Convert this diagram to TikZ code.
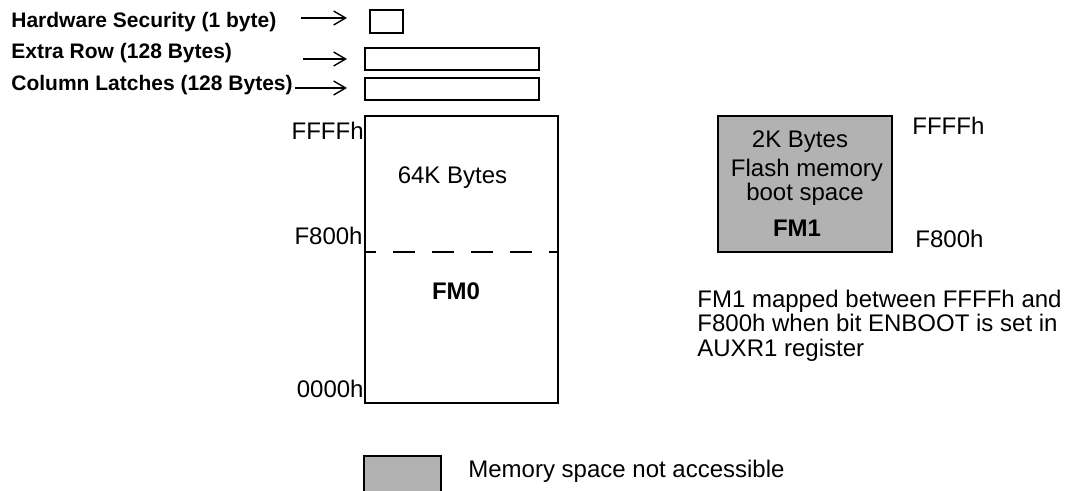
\documentclass[tikz,border=0pt]{standalone}
\usepackage{fontspec}
\setmainfont{Liberation Sans}
\usetikzlibrary{arrows.meta}

\begin{document}
\begin{tikzpicture}[x=0.5pt,y=-0.5pt,
    box/.style={draw=black,line width=1pt,inner sep=0pt},
    grey/.style={box,fill=black!30},
    txt/.style={inner sep=0pt,font=\fontsize{12}{14}\selectfont},
    tag/.style={inner sep=0pt,font=\fontsize{10.5}{12}\selectfont\bfseries},
    >={Straight Barb[length=6pt,width=7pt]}]
      \useasboundingbox (0,0) rectangle (1065,491);

      % top rows
      \node[tag,anchor=base west] (hst) at (11,28){Hardware Security (1 byte)};
      \node[tag,anchor=base west] (ert) at (11,59){Extra Row (128 Bytes)};
      \node[tag,anchor=base west] (clt) at (11,91){Column Latches (128 Bytes)};
      \node[box,minimum width=16.5pt,minimum height=11.5pt] (hs) at (386.5,21.5){};
      \node[box,minimum width=87pt,minimum height=11pt] (er) at (452,59){};
      \node[box,minimum width=87pt,minimum height=11pt] (cl) at (452,89){};
      \coordinate (ha) at (301,18);
      \coordinate (ea) at (303,59);
      \coordinate (ca) at (295,88);
      \draw[->,line width=0.7pt,shorten >=11pt] (ha) -- (ha -| hs.west);
      \draw[->,line width=0.7pt,shorten >=8.5pt] (ea) -- (ea -| er.west);
      \draw[->,line width=0.7pt,shorten >=8.5pt] (ca) -- (ca -| cl.west);

      % FM0
      \node[box,minimum width=96.5pt,minimum height=143.5pt] (fm0) at (461.5,259.5){};
      \coordinate (dl) at (365,252);
      \draw[line width=1pt,dash pattern=on 11pt off 8.5pt,dash phase=5.5pt] (dl) -- (dl -| fm0.east);
      \node[txt,anchor=base east] (a1) at (364,140){FFFFh};
      \node[txt,anchor=base east] (a2) at (363,245){F800h};
      \node[txt,anchor=base east] (a3) at (364,398){0000h};
      \node[txt,anchor=base] (k64) at (452.5,184){64K Bytes};
      \node[txt,anchor=base,font=\fontsize{12}{14}\selectfont\bfseries] (m0) at (456,300){FM0};

      % FM1
      \node[grey,minimum width=87pt,minimum height=68pt] (fm1) at (805,184){};
      \node[txt,anchor=base] (k2) at (800,148){2K Bytes};
      \node[txt,anchor=base] (fl) at (807,177){Flash memory};
      \node[txt,anchor=base] (bs) at (805,201){boot space};
      \node[txt,anchor=base,font=\fontsize{12}{14}\selectfont\bfseries] (m1) at (797,237){FM1};
      \node[txt,anchor=base west] (b1) at (912,135){FFFFh};
      \node[txt,anchor=base west] (b2) at (915,248){F800h};
      \node[txt,anchor=north west,align=left,font=\fontsize{12}{12.25}\selectfont] (nt) at (697,289.5)
        {FM1 mapped between FFFFh and\\F800h when bit ENBOOT is set in\\AUXR1 register};

      % legend
      \node[grey,minimum width=38.5pt,minimum height=20pt] (lg) at (402.5,476){};
      \node[txt,anchor=base west] (lt) at (468,477){Memory space not accessible};
\end{tikzpicture}
\end{document}
